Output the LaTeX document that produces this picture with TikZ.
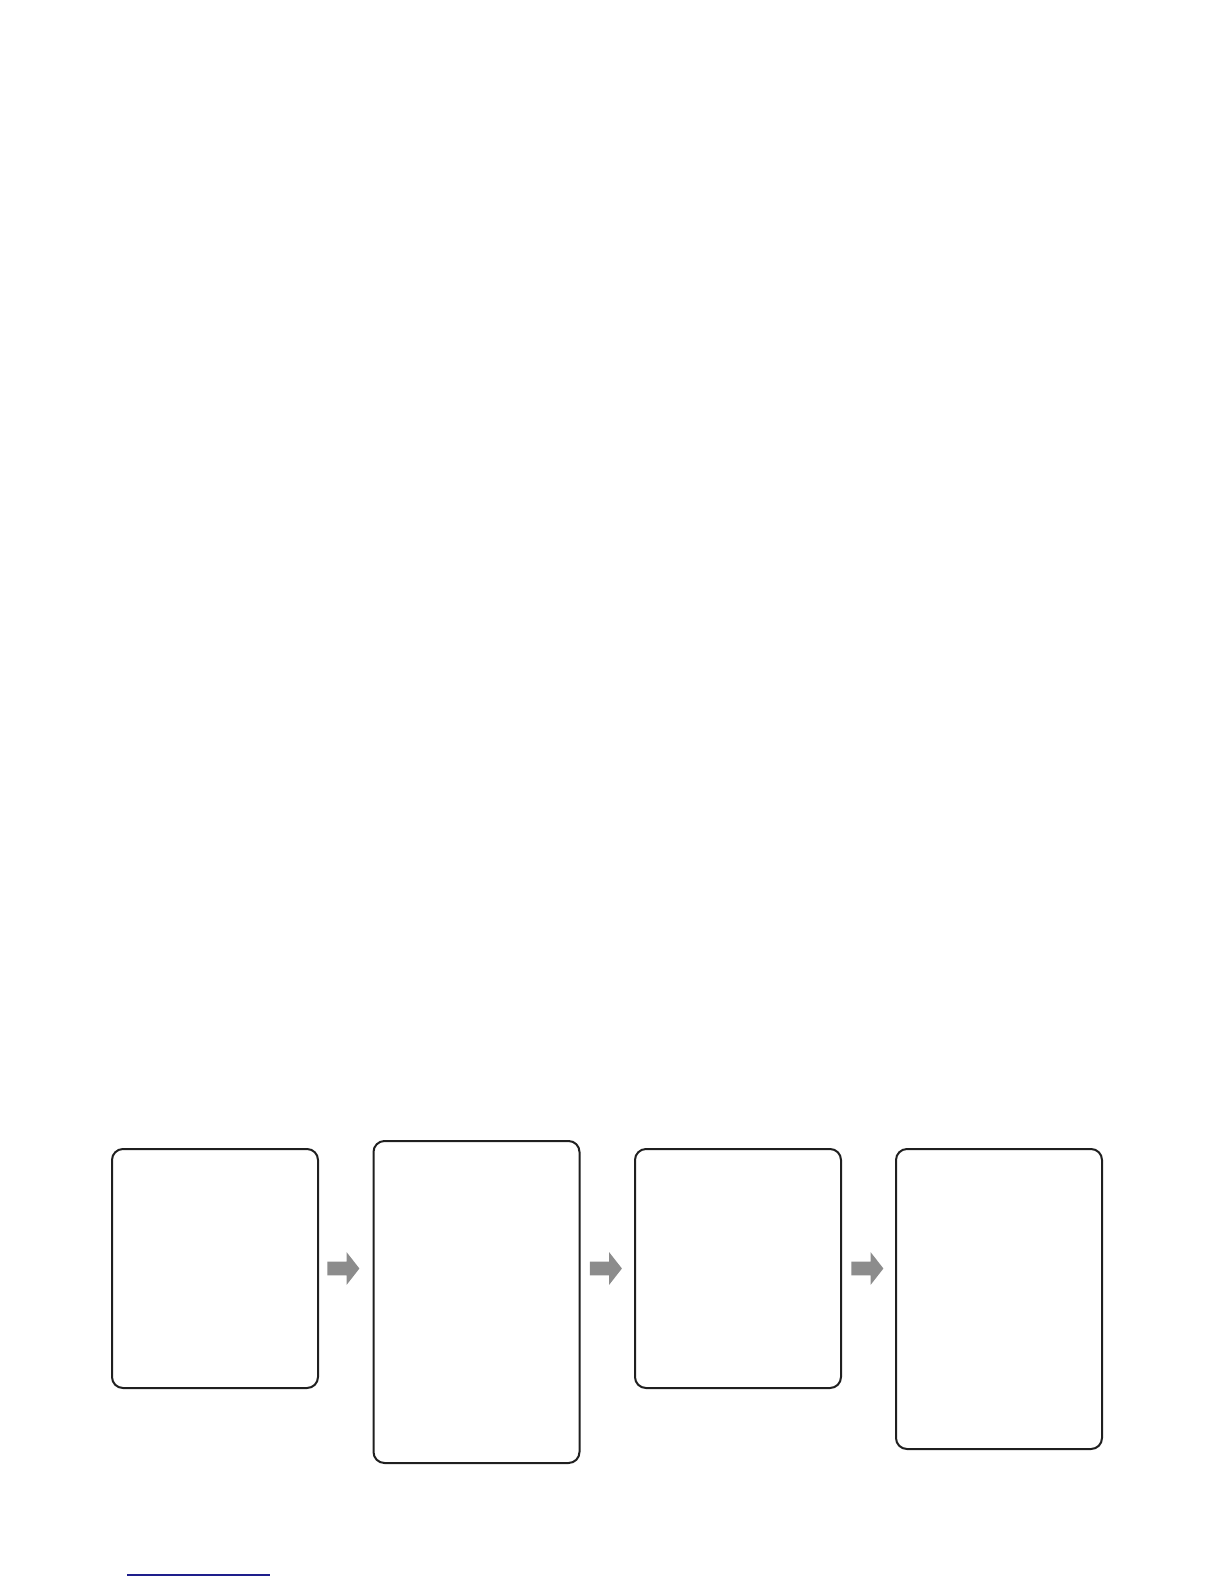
\documentclass[tikz,border=0pt]{standalone}
\usepackage{tikz}
\usetikzlibrary{shapes.arrows}
\usetikzlibrary{positioning}
\definecolor{arrowgray}{RGB}{140,140,140}
\definecolor{rulenavy}{RGB}{30,30,140}
\tikzset{
    stagebox/.style={draw=black!88, line width=1pt, rounded corners=5.5pt,
        minimum width=103pt, inner sep=0pt, anchor=north},
    blockarrow/.style={single arrow, fill=arrowgray, draw=none, inner sep=3.25pt,
        single arrow head extend=4.75pt, minimum height=16pt,
        single arrow tip angle=104, single arrow head indent=0pt},
    footrule/.style={draw=rulenavy, line width=0.6pt}
}
\begin{document}
\begin{tikzpicture}[x=0.5pt,y=-0.5pt]
	\useasboundingbox (0,0) rectangle (1224,1584);
	% four stages
	\node[stagebox, minimum height=119.5pt] (b1) at (215,1148) {};
	\node[stagebox, minimum height=161pt] (b2) at (476.5,1140) {};
	\node[stagebox, minimum height=119.5pt] (b3) at (738,1148) {};
	\node[stagebox, minimum height=150pt] (b4) at (999,1148) {};
	% arrows between stages
	\node[blockarrow, right=4pt of b1] (a1) {};
	\node[blockarrow, anchor=west] (a2) at ([xshift=4.5pt]b2.east |- b1.east) {};
	\node[blockarrow, right=4.5pt of b3] (a3) {};
	% footnote rule
	\draw[footrule] (127,1575) -- (270,1575);
\end{tikzpicture}
\end{document}
